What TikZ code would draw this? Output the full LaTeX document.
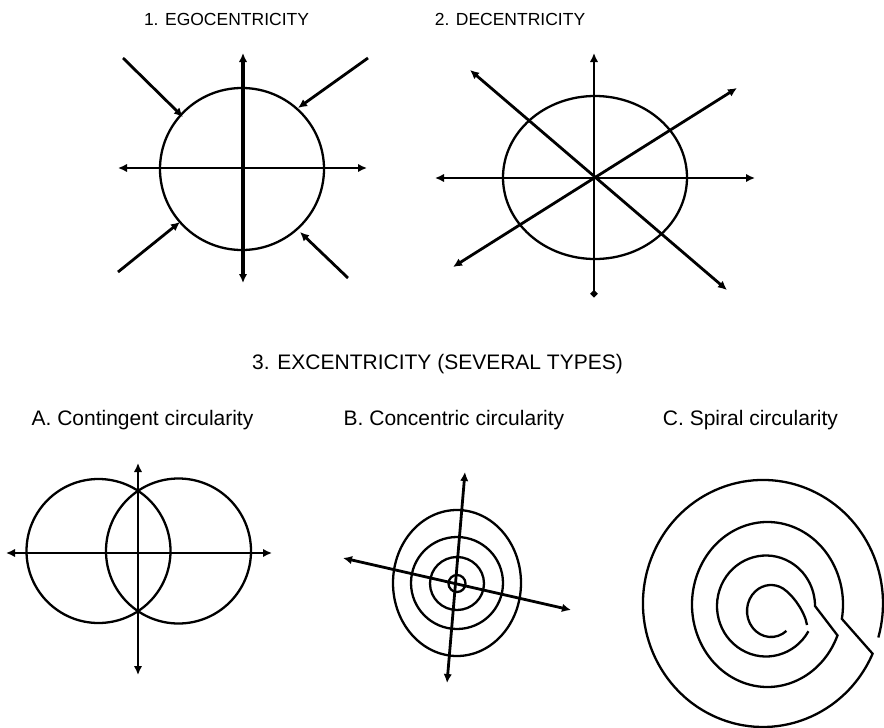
\documentclass[tikz,border=0pt]{standalone}
\usepackage{fontspec}
\setmainfont{Liberation Sans}
\usetikzlibrary{arrows.meta}

\begin{document}
\begin{tikzpicture}[
  x=1pt, y=-1pt,
  ring/.style={draw, line width=2.3pt},
  axisline/.style={line width=2.8pt,
    {Latex[length=9pt,width=8.5pt]}-{Latex[length=9pt,width=8.5pt]}},
  inward/.style={line width=2.8pt, -{Latex[length=9pt,width=8.5pt]}},
  heading/.style={anchor=base, font=\fontsize{17.5}{20}\selectfont},
  caption/.style={anchor=base, font=\fontsize{21}{24}\selectfont}
]
\useasboundingbox (0,0) rectangle (884,728);

% titles
\node[heading] (egoT) at (226.5,25) {1. EGOCENTRICITY};
\node[heading] (decT) at (510,25) {2. DECENTRICITY};
\node[caption] (excT) at (437.5,369) {3. EXCENTRICITY (SEVERAL TYPES)};
\node[caption] (contT) at (142.5,425.5) {A. Contingent circularity};
\node[caption] (concT) at (454,425.5) {B. Concentric circularity};
\node[caption] (spirT) at (750.5,425.5) {C. Spiral circularity};

% 1. egocentricity
\draw[ring] (242,169) circle[x radius=82, y radius=81];
\draw[axisline] (118,168) -- (367,168);
\draw[axisline, line width=4pt] (243,53) -- (243,283);
\draw[inward] (123,58) -- (183,117);
\draw[inward] (368,58) -- (298,108);
\draw[inward] (118,272) -- (180,222);
\draw[inward] (348,278) -- (300,232);

% 2. decentricity
\draw[ring] (595,177.5) circle[x radius=92, y radius=81.5];
\draw[axisline] (435,178) -- (755,178);
\draw[line width=2.8pt, {Circle[length=6.5pt]}-{Latex[length=9pt,width=8.5pt]}]
  (594,297) -- (594,53);
\draw[axisline] (470,70) -- (727,290);
\draw[axisline] (453,267) -- (737,88);

% A. contingent
\draw[ring] (98.5,551) circle[radius=72];
\draw[ring] (178.5,551) circle[radius=72.5];
\draw[axisline] (6,553) -- (272,553);
\draw[axisline] (138,463) -- (138,675);

% B. concentric
\draw[ring] (457,583) circle[x radius=64, y radius=73];
\draw[ring] (457,583) circle[radius=46];
\draw[ring] (457,583.5) circle[x radius=27, y radius=26.5];
\draw[ring] (457,583.5) circle[radius=8.5];
\draw[axisline] (447,683) -- (465,472);
\draw[axisline] (343,558) -- (571,610);

% C. spiral
\draw[ring] (771,611) ++(50:24 and 26)
  arc[start angle=50, end angle=300, x radius=24, y radius=26]
  .. controls (793,595) and (805,612) .. (807,625);
\draw[ring] (766,606) ++(30:49 and 50.5)
  arc[start angle=30, end angle=360, x radius=49, y radius=50.5]
  -- (837.5,635.4)
  arc[start angle=22, end angle=370, x radius=75.5, y radius=82.5]
  -- (872.6,653.7)
  arc[start angle=24, end angle=376, x radius=120, y radius=123.5];
\end{tikzpicture}
\end{document}
